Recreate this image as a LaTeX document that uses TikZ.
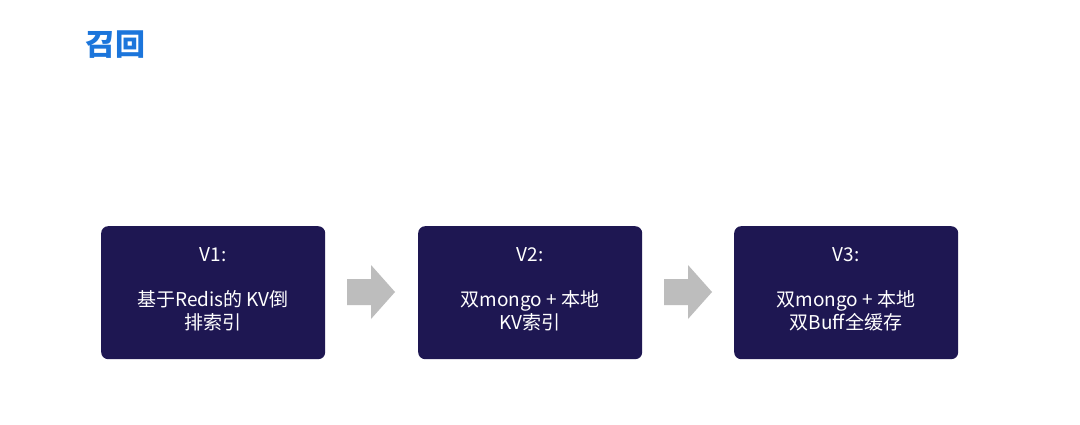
\documentclass[tikz,border=0pt]{standalone}
\usepackage{fontspec}
\setmainfont{Noto Sans CJK SC}
\newfontfamily\boldcjk[BoldFont={* Bold}]{Noto Sans CJK SC}
\definecolor{navy}{HTML}{1E1752}
\definecolor{ttl}{HTML}{1B75DB}
\definecolor{arr}{HTML}{BDBDBD}
\begin{document}
\begin{tikzpicture}[x=1pt,y=-1pt,
  vbox/.style={fill=navy,rounded corners=7pt,minimum width=224pt,minimum height=133pt,anchor=north west,inner sep=0pt},
  lbl/.style={text=white,font=\fontsize{19}{23}\selectfont,align=center},
  garrow/.style={fill=arr,draw=none}]
\useasboundingbox (0,0) rectangle (1080,425);
\fill[white] (0,0) rectangle (1080,425);
\node[text=ttl,font=\fontsize{30}{32}\selectfont\bfseries,anchor=west] (title) at (82,45) {召回};
\node[vbox] (b1) at (101,226) {};
\node[vbox] (b2) at (418,226) {};
\node[vbox] (b3) at (734,226) {};
\node[lbl] (t1) at (213,255) {V1:};
\node[lbl] (s1) at (213,311) {基于Redis的 KV倒\\排索引};
\node[lbl] (t2) at (530,255) {V2:};
\node[lbl] (s2) at (530,311) {双mongo + 本地\\KV索引};
\node[lbl] (t3) at (846,255) {V3:};
\node[lbl] (s3) at (846,311) {双mongo + 本地\\双Buff全缓存};
\foreach \x/\n in {347/a1,664/a2}{
  \fill[garrow] (\x,279) -- (\x+24,279) -- (\x+24,265) -- (\x+48,292) -- (\x+24,319) -- (\x+24,305) -- (\x,305) -- cycle;
}
\end{tikzpicture}
\end{document}
